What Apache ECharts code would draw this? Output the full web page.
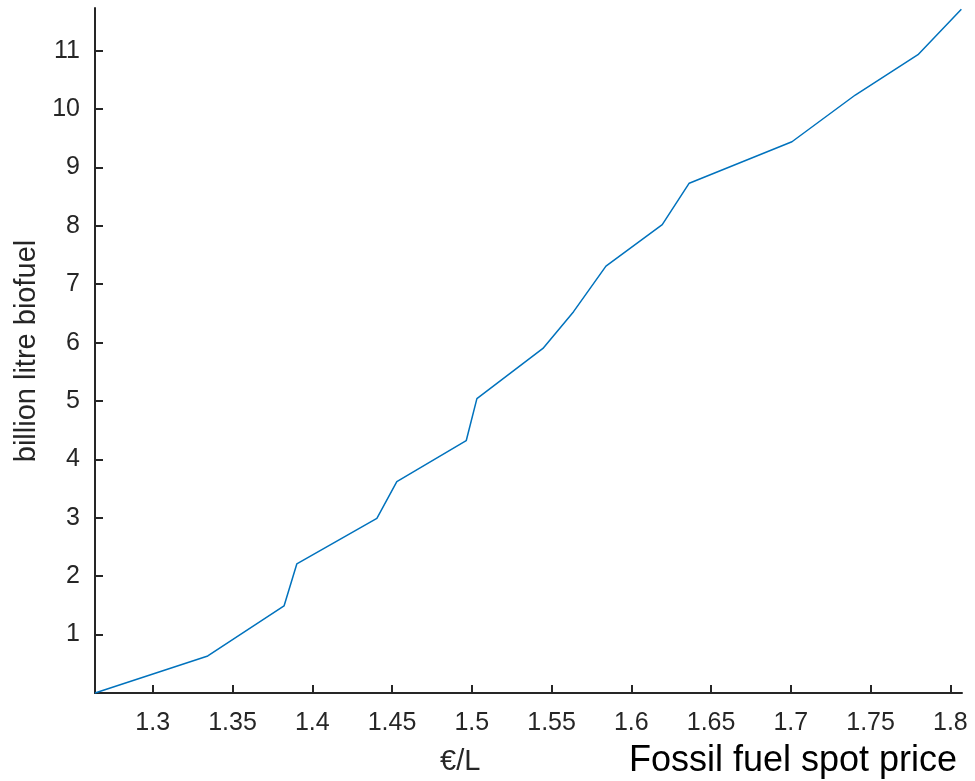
<!DOCTYPE html>
<html>
<head>
<meta charset="utf-8">
<script src="https://cdn.jsdelivr.net/npm/echarts@6/dist/echarts.min.js"></script>
<style>
html,body{margin:0;padding:0;background:#fff;}
#c{width:975px;height:781px;}
</style>
</head>
<body>
<div id="c"></div>
<script>
// Fossil fuel spot price (€/L)
var price = [1.2638, 1.3345, 1.3823, 1.3903, 1.4405, 1.4530, 1.4965, 1.5032, 1.5446, 1.5638, 1.5841, 1.6194, 1.6363, 1.7007, 1.7404, 1.7797, 1.8069];
// billion litre biofuel
var biofuel = [0, 0.635, 1.49, 2.21, 2.99, 3.62, 4.32, 5.04, 5.90, 6.53, 7.31, 8.02, 8.73, 9.44, 10.24, 10.93, 11.71];
var xTicks = [1.3, 1.35, 1.4, 1.45, 1.5, 1.55, 1.6, 1.65, 1.7, 1.75, 1.8];
var yTicks = [1, 2, 3, 4, 5, 6, 7, 8, 9, 10, 11];
var xLabelText = '€/L';
var yLabelText = 'billion litre biofuel';
var titleText = 'Fossil fuel spot price';

var FONT = '"Liberation Sans", Arial, Helvetica, sans-serif';
var AX = '#262626';

var chart = echarts.init(document.getElementById('c'), null, {renderer: 'canvas'});
var data = price.map(function (p, i) { return [p, biofuel[i]]; });

chart.setOption({
  animation: false,
  backgroundColor: '#ffffff',
  grid: {left: 95, top: 8, right: 13, bottom: 88, containLabel: false},
  xAxis: {
    type: 'value',
    min: 1.2638,
    max: 1.8073,
    axisLine: {show: true, onZero: false, lineStyle: {color: AX, width: 2}},
    axisTick: {show: true, inside: true, length: 8, customValues: xTicks, lineStyle: {color: AX, width: 2}},
    axisLabel: {customValues: xTicks, color: AX, fontSize: 25, fontFamily: FONT, margin: 18,
      formatter: function (v) { return String(+v.toFixed(2)); }},
    splitLine: {show: false}
  },
  yAxis: {
    type: 'value',
    min: 0,
    max: 11.73,
    axisLine: {show: true, onZero: false, lineStyle: {color: AX, width: 2}},
    axisTick: {show: true, inside: true, length: 8, customValues: yTicks, lineStyle: {color: AX, width: 2}},
    axisLabel: {customValues: yTicks, color: AX, fontSize: 25, fontFamily: FONT, margin: 15},
    splitLine: {show: false}
  },
  series: [{
    type: 'line',
    data: data,
    showSymbol: false,
    symbol: 'none',
    lineStyle: {color: '#0072BD', width: 1.5},
    clip: false
  }],
  graphic: [
    {type: 'text', left: 440, top: 747, style: {text: xLabelText, fontSize: 29, fontFamily: FONT, fill: AX}},
    {type: 'text', left: 629, top: 743, style: {text: titleText, fontSize: 36, fontFamily: FONT, fill: '#000'}},
    {type: 'text', x: 27, y: 351, rotation: Math.PI / 2,
      style: {text: yLabelText, fontSize: 29, fontFamily: FONT, fill: AX, align: 'center', verticalAlign: 'middle'}}
  ]
});
</script>
</body>
</html>
